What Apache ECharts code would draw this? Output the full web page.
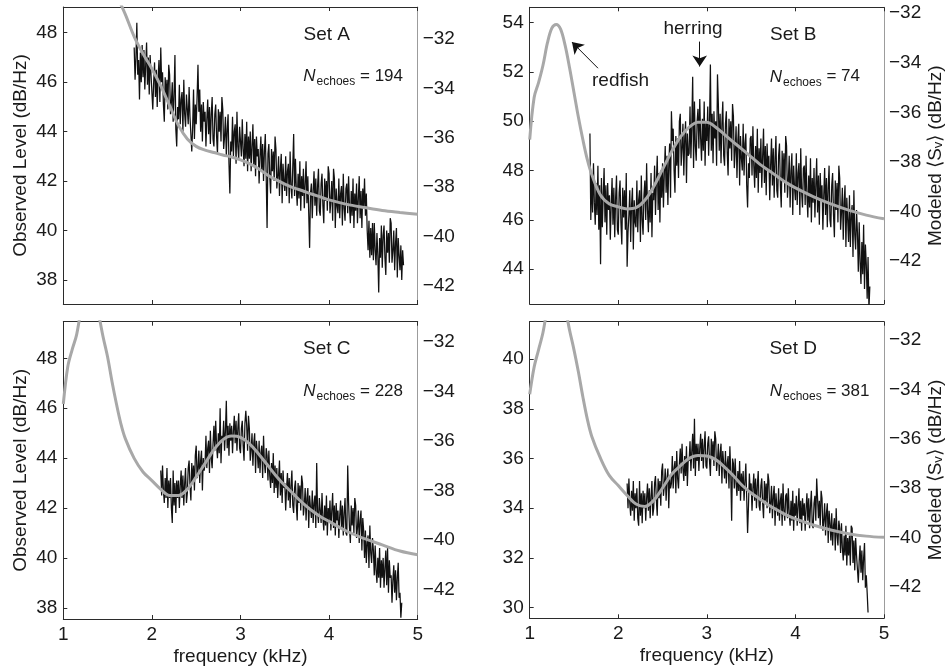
<!DOCTYPE html>
<html>
<head>
<meta charset="utf-8">
<script src="https://cdn.jsdelivr.net/npm/echarts@6/dist/echarts.min.js"></script>
<style>
html,body{margin:0;padding:0;background:#fff;}
#chart{width:946px;height:670px;}
</style>
</head>
<body>
<div id="chart"></div>
<script>
// ---------------- DATA ----------------
const FREQ_STEP = 0.01;          // kHz spacing of the observed spectra
const xTicks = [1, 2, 3, 4, 5];
const leftTicksA = [38, 40, 42, 44, 46, 48];
const leftTicksB = [44, 46, 48, 50, 52, 54];
const leftTicksC = [38, 40, 42, 44, 46, 48];
const leftTicksD = [30, 32, 34, 36, 38, 40];
const rightTicks = [-42, -40, -38, -36, -34, -32];

const setLabels = ['Set A', 'Set B', 'Set C', 'Set D'];
const echoCounts = ['194', '74', '228', '381'];

// Observed level (dB/Hz), left axis
const obsStartA = 1.80;
const obsA = [
 47.4,46.1,47.0,48.4,46.3,46.9,45.3,47.2,46.0,47.5,
 46.2,47.3,45.7,46.7,47.6,45.9,47.0,45.5,47.1,46.3,
 46.3,44.9,46.0,46.8,45.4,46.5,45.0,46.2,46.9,45.2,
 47.4,46.0,46.4,45.1,44.4,46.2,45.3,46.1,44.9,46.7,
 46.3,44.7,45.2,46.0,44.4,45.5,47.1,44.1,43.4,45.0,
 44.5,45.9,44.3,45.3,45.6,44.0,46.1,44.7,44.2,45.5,
 45.5,44.3,45.8,44.6,43.9,43.2,44.2,45.7,43.7,45.1,
 44.3,45.4,46.7,44.8,45.7,44.0,45.1,43.6,45.2,44.4,
 44.8,43.4,44.5,45.3,43.9,45.0,43.5,44.7,45.4,43.7,
 43.4,44.7,45.1,43.8,43.1,44.9,44.0,44.8,43.6,45.4,
 44.9,43.3,43.8,44.6,43.0,44.1,44.7,42.7,41.5,43.6,
 43.2,44.6,43.0,44.0,44.3,42.7,44.8,43.4,42.9,44.2,
 44.2,43.0,44.5,43.3,42.6,43.9,42.9,44.4,42.4,43.8,
 42.9,44.0,42.4,43.4,44.3,42.6,43.7,42.2,43.8,43.0,
 43.3,41.9,43.0,43.8,42.4,43.5,42.0,43.2,43.9,42.2,
 40.1,43.1,43.5,42.2,41.5,43.3,42.4,43.2,42.0,43.8,
 43.3,41.7,42.2,43.0,41.4,42.5,43.1,41.1,42.7,42.0,
 41.6,43.0,41.4,42.4,42.7,41.1,43.2,41.8,41.3,42.6,
 43.9,41.4,42.9,41.7,41.0,42.3,41.3,42.8,40.8,42.2,
 41.4,42.5,40.9,41.9,42.8,41.1,42.2,40.7,39.3,41.5,
 41.9,40.5,41.6,42.4,41.0,42.1,40.6,41.8,42.5,40.8,
 40.6,41.9,42.3,41.0,40.3,42.1,41.2,42.0,40.8,42.6,
 42.3,40.7,41.2,42.0,40.4,42.5,42.1,40.1,41.7,41.0,
 40.7,42.1,40.5,41.5,41.8,40.2,42.3,40.9,40.4,41.7,
 41.9,40.7,42.2,41.0,40.3,41.6,40.6,42.1,40.1,41.5,
 40.8,41.9,40.3,41.3,42.2,40.5,41.6,40.1,41.7,40.9,
 42.1,40.6,41.5,40.0,39.2,40.4,38.9,40.1,39.0,40.3,
 38.8,40.3,39.2,38.6,39.9,39.0,37.5,39.7,38.9,40.2,
 38.5,39.8,40.2,38.9,38.2,40.0,39.1,39.9,38.7,40.5,
 40.3,38.7,39.2,40.0,38.4,39.5,40.1,38.1,39.7,39.0,
 38.4,39.4,38.0,39.2,38.6
];
const obsStartB = 1.68;
const obsB = [
 49.5,46.0,
 47.9,46.3,48.3,46.7,45.8,47.5,46.2,48.2,45.6,47.4,
 44.2,47.7,45.7,47.0,48.1,45.9,47.4,45.4,47.5,46.4,
 47.0,45.2,46.6,47.7,45.8,47.3,45.3,46.9,47.8,45.6,
 45.4,47.1,47.6,45.9,45.0,47.3,46.1,47.2,45.6,47.9,
 44.1,45.5,46.2,47.2,45.1,46.6,47.3,44.8,46.8,45.9,
 45.7,47.6,45.5,46.8,47.2,45.1,47.8,46.0,45.4,47.0,
 47.6,46.0,48.3,46.4,45.5,47.2,45.9,47.9,45.3,47.1,
 46.8,48.2,46.2,47.5,48.6,46.4,47.9,45.9,48.0,46.9,
 48.3,46.5,47.9,49.0,47.1,48.6,46.6,48.2,49.1,46.9,
 50.4,49.2,49.7,48.0,47.1,49.4,48.2,49.3,47.7,50.0,
 50.3,48.2,48.9,49.9,47.8,49.3,50.0,47.5,49.5,48.6,
 48.7,50.6,48.5,49.8,51.8,48.1,50.8,49.0,48.4,50.0,
 50.5,48.9,50.9,49.3,48.4,50.1,48.8,50.8,48.2,50.0,
 49.2,50.6,48.6,49.9,52.3,48.8,50.3,48.3,50.4,49.3,
 50.0,48.2,51.9,50.7,48.8,50.3,48.3,49.9,50.8,48.6,
 48.2,49.9,50.4,48.7,47.8,50.1,48.9,50.0,48.4,50.7,
 50.2,48.1,48.8,49.8,47.7,49.2,49.9,47.4,49.4,48.5,
 48.0,49.9,47.8,49.1,49.5,47.4,46.5,48.3,47.7,49.3,
 49.4,47.8,49.8,48.2,47.3,49.0,47.7,49.7,47.1,48.9,
 47.9,49.3,47.3,48.6,49.7,47.5,49.0,47.0,49.1,48.0,
 48.6,46.8,48.2,49.3,47.4,48.9,46.9,48.5,49.4,47.2,
 46.9,48.6,49.1,47.4,46.5,48.8,47.6,48.7,47.1,49.4,
 49.0,46.9,47.6,48.6,46.5,48.0,48.7,46.2,48.2,47.3,
 46.8,48.7,46.6,47.9,48.3,46.2,48.9,47.1,46.5,48.1,
 48.2,46.6,48.6,47.0,46.1,47.8,46.5,48.5,45.9,47.7,
 46.7,48.1,46.1,47.4,48.5,46.3,47.8,45.8,47.9,46.8,
 47.4,45.6,47.0,48.1,46.2,47.7,45.7,47.3,48.2,46.0,
 45.7,47.4,47.9,46.2,45.3,47.6,46.4,47.5,45.9,48.2,
 47.7,45.6,46.3,47.3,45.2,46.7,47.4,44.9,46.9,46.0,
 45.1,47.0,44.9,46.2,46.6,44.5,47.2,45.4,44.8,46.4,
 45.5,43.9,45.9,44.3,43.4,45.1,43.8,45.8,43.2,45.0,
 44.2,42.8,44.5,42.4,43.3
];
const obsStartC = 2.10;
const obsC = [
 43.5,42.5,43.7,42.7,42.2,43.2,42.4,43.6,42.0,43.1,
 42.4,43.2,42.0,41.4,43.5,42.1,43.0,41.8,43.1,42.4,
 43.1,42.0,42.9,43.5,42.4,43.3,42.1,43.0,43.6,42.2,
 42.6,43.6,43.9,42.9,42.3,43.8,43.0,43.7,42.7,44.1,
 44.5,43.2,43.6,44.3,43.0,43.9,44.3,42.7,44.0,43.5,
 43.8,44.9,43.6,44.4,44.7,43.4,45.1,44.0,43.6,44.6,
 45.3,44.3,45.5,44.5,44.0,45.0,44.2,46.0,43.8,44.9,
 44.7,45.5,44.3,45.1,46.3,44.4,45.3,44.1,45.4,44.7,
 45.3,44.2,45.1,45.7,44.6,45.5,44.3,45.2,45.8,44.4,
 44.2,45.2,45.5,44.5,43.9,45.4,45.9,45.3,44.3,45.7,
 45.2,43.9,44.3,45.0,43.7,44.6,45.0,43.4,44.7,44.2,
 43.6,44.7,43.4,44.2,44.5,43.2,44.9,43.8,43.4,44.4,
 44.1,43.1,44.3,43.3,42.8,43.8,43.0,44.2,42.6,43.7,
 42.8,43.6,42.4,43.2,43.9,42.5,43.4,42.2,43.5,42.8,
 43.0,41.9,42.8,43.4,42.3,43.2,42.0,42.9,43.5,42.1,
 41.8,42.8,43.1,42.1,41.5,43.0,42.2,42.9,41.9,43.3,
 43.0,41.7,42.1,42.8,41.5,42.4,42.8,41.2,42.5,42.0,
 41.6,42.7,41.4,42.2,42.5,41.2,43.8,41.8,41.4,42.4,
 42.4,41.4,42.6,41.6,41.1,42.1,41.3,42.5,40.9,42.0,
 41.5,42.3,41.1,41.9,42.6,41.2,42.1,40.9,42.2,41.5,
 41.9,40.8,41.7,42.3,41.2,42.1,40.9,41.8,42.4,41.0,
 40.9,43.7,42.2,41.2,40.6,42.1,41.3,42.0,41.0,42.4,
 42.1,40.8,41.2,41.9,40.6,41.5,41.9,40.3,41.6,41.1,
 40.0,41.1,39.8,40.6,40.9,39.6,41.3,40.2,39.8,40.8,
 40.3,39.3,40.5,39.5,39.0,40.0,39.2,40.4,38.8,39.9,
 39.2,40.0,38.8,39.6,40.3,38.9,40.4,38.6,39.9,39.2,
 39.3,38.2,39.1,39.7,38.6,39.5,38.3,39.2,39.8,38.4,
 38.6,37.6,38.2
];
const obsStartD = 2.10;
const obsD = [
 35.0,34.0,35.2,34.2,33.7,34.7,33.9,35.1,33.5,34.6,
 34.0,34.8,33.6,33.3,35.1,33.7,34.6,33.4,34.7,34.0,
 34.6,33.5,34.4,35.0,33.9,34.8,33.6,34.5,35.1,33.7,
 34.0,35.0,35.3,34.3,33.7,35.2,34.4,35.1,34.1,35.5,
 35.8,34.5,34.9,35.6,34.3,35.2,35.6,34.0,35.3,34.8,
 35.0,36.1,34.8,35.6,35.9,34.6,36.3,35.2,34.8,35.8,
 36.4,35.4,36.6,35.6,35.1,36.1,35.3,36.5,34.9,36.0,
 35.9,36.7,35.5,36.3,37.0,35.6,37.6,35.3,36.6,35.9,
 36.6,35.5,36.4,37.0,35.9,36.8,35.6,36.5,37.1,35.7,
 35.6,36.6,36.9,35.9,35.3,36.8,36.0,36.7,35.7,37.1,
 36.8,35.5,35.9,36.6,35.3,36.2,36.6,35.0,36.3,35.8,
 35.2,36.3,35.0,35.8,36.1,34.8,36.5,35.4,33.5,36.0,
 35.8,34.8,36.0,35.0,34.5,35.5,34.7,35.9,34.3,35.4,
 34.7,35.5,34.3,35.1,35.8,34.4,33.0,34.1,35.4,34.7,
 35.0,33.9,34.8,35.4,34.3,35.2,34.0,34.9,35.5,34.1,
 33.9,34.9,35.2,34.2,33.6,35.1,34.3,35.0,34.0,35.4,
 35.1,33.8,34.2,34.9,33.6,34.5,34.9,33.3,34.6,34.1,
 33.7,34.8,33.5,34.3,34.6,33.3,35.0,33.9,33.5,34.5,
 34.6,33.6,34.8,33.8,33.3,34.3,33.5,34.7,33.1,34.2,
 33.7,34.5,33.3,34.1,34.8,33.4,34.3,33.1,34.4,33.7,
 34.2,33.1,34.0,34.6,33.5,34.4,33.2,34.1,34.7,33.3,
 33.2,34.2,34.5,33.5,35.2,34.4,33.6,34.3,33.3,34.7,
 34.4,33.1,33.5,34.2,32.9,33.8,34.2,32.6,33.9,33.4,
 32.7,33.8,32.5,33.3,33.6,32.3,34.0,32.9,32.5,33.5,
 33.2,32.2,33.4,32.4,31.9,32.9,32.1,33.3,31.7,32.8,
 32.1,32.9,31.7,33.3,33.2,31.8,32.7,31.5,32.8,32.1,
 32.1,31.0,31.9,32.5,31.4,32.3,31.1,32.0,32.6,30.8,
 31.3,30.6,29.8
];

// Modeled <Sv> (dB/Hz), right axis
const modelFreqA = [1.4,1.5,1.6,1.7,1.8,1.9,2.0,2.1,2.2,2.3,2.4,2.5,2.6,2.7,2.8,2.9,3.0,3.1,3.2,3.3,3.4,3.5,3.6,3.7,3.8,3.9,4.0,4.2,4.4,4.6,4.8,5.0];
const modelA = [-28.4,-29.4,-30.2,-31.0,-31.9,-32.6,-33.2,-33.9,-34.7,-35.5,-36.05,-36.35,-36.5,-36.6,-36.7,-36.78,-36.9,-37.05,-37.25,-37.5,-37.7,-37.88,-38.03,-38.15,-38.28,-38.4,-38.52,-38.7,-38.83,-38.95,-39.03,-39.1];
const modelFreq = [1.0,1.05,1.1,1.15,1.2,1.25,1.3,1.35,1.4,1.45,1.5,1.55,1.6,1.65,1.7,1.8,1.9,2.0,2.1,2.2,2.3,2.4,2.5,2.6,2.7,2.8,2.9,3.0,3.1,3.2,3.3,3.4,3.5,3.6,3.7,3.8,3.9,4.0,4.2,4.4,4.6,4.8,5.0];
const modelB = [-37.1,-35.4,-34.8,-34.1,-33.2,-32.6,-32.45,-32.65,-33.3,-34.2,-35.2,-36.2,-37.1,-37.9,-38.5,-39.35,-39.7,-39.82,-39.9,-39.85,-39.55,-39.0,-38.3,-37.6,-37.0,-36.6,-36.4,-36.4,-36.6,-36.9,-37.2,-37.5,-37.8,-38.1,-38.35,-38.6,-38.85,-39.05,-39.4,-39.7,-39.95,-40.15,-40.3];
const modelC = [-34.5,-33.0,-32.3,-31.7,-30.7,-30.0,-29.9,-30.2,-30.9,-31.8,-32.6,-33.6,-34.5,-35.3,-35.9,-36.7,-37.25,-37.6,-37.95,-38.2,-38.2,-37.95,-37.45,-36.9,-36.35,-35.95,-35.8,-35.85,-36.1,-36.5,-36.95,-37.4,-37.8,-38.15,-38.5,-38.8,-39.05,-39.25,-39.65,-39.95,-40.2,-40.45,-40.6];
const modelD = [-34.2,-33.1,-32.4,-31.7,-30.7,-30.1,-29.9,-30.1,-30.7,-31.6,-32.4,-33.3,-34.3,-35.2,-35.9,-36.8,-37.5,-37.9,-38.3,-38.65,-38.75,-38.5,-38.0,-37.45,-37.1,-36.8,-36.68,-36.7,-36.85,-37.15,-37.5,-37.9,-38.2,-38.45,-38.7,-38.9,-39.1,-39.25,-39.5,-39.7,-39.85,-39.95,-40.0];

// Annotation arrows in Set B (frequency kHz, observed level dB/Hz): [tail, head]
const redfishArrow = [[1.771, 52.15], [1.477, 53.21]];
const herringArrow = [[2.919, 53.23], [2.919, 52.22]];

// ---------------- LAYOUT / STYLE ----------------
const FONT = '"Liberation Sans", Arial, Helvetica, sans-serif';
const AXC = '#2b2b2b', RAXC = '#9c9c9c', TXT = '#1a1a1a';
const OBS_COLOR = '#111111', MODEL_COLOR = '#a8a8a8';

const layout = [
  {left: 63.3,  top: 7,     width: 354.4, height: 297,   lmin: 37.03, lmax: 49.04, rmin: -42.74, rmax: -30.70},
  {left: 529.7, top: 7.3,   width: 354.3, height: 296.7, lmin: 42.59, lmax: 54.62, rmin: -43.74, rmax: -31.76},
  {left: 63.3,  top: 321.7, width: 354.4, height: 297.3, lmin: 37.55, lmax: 49.47, rmin: -43.20, rmax: -31.17},
  {left: 529.7, top: 321.7, width: 354.3, height: 296.6, lmin: 29.57, lmax: 41.51, rmin: -43.28, rmax: -31.26}
];

const panels = [
  {obsStart: obsStartA, obs: obsA, mf: modelFreqA, mv: modelA, lticks: leftTicksA},
  {obsStart: obsStartB, obs: obsB, mf: modelFreq,  mv: modelB, lticks: leftTicksB},
  {obsStart: obsStartC, obs: obsC, mf: modelFreq,  mv: modelC, lticks: leftTicksC},
  {obsStart: obsStartD, obs: obsD, mf: modelFreq,  mv: modelD, lticks: leftTicksD}
];

const xName = 'frequency (kHz)';
const leftName = 'Observed Level (dB/Hz)';
const rightName = 'Modeled \u27E8S\u1D65\u27E9 (dB/Hz)';
const nameStyle = {fontSize: 19, color: TXT, fontFamily: FONT};
const labelStyle = {fontSize: 19, color: TXT, fontFamily: FONT};
const minus = v => (v < 0 ? '\u2212' : '') + Math.abs(v);

const grids = [], xAxes = [], yAxes = [], series = [], graphics = [];

panels.forEach((p, i) => {
  const L = layout[i];
  const bottomRow = i >= 2;
  const leftCol = i % 2 === 0;
  grids.push({left: L.left, top: L.top, width: L.width, height: L.height, containLabel: false, show: false});

  xAxes.push({
    gridIndex: i, type: 'value', position: 'bottom', min: xTicks[0], max: xTicks[xTicks.length - 1], interval: 1,
    axisLine: {show: true, onZero: false, lineStyle: {color: AXC, width: 1}},
    axisTick: {show: true, inside: true, length: 4, lineStyle: {color: AXC}},
    axisLabel: Object.assign({show: bottomRow, margin: 6}, labelStyle),
    splitLine: {show: false},
    name: bottomRow ? xName : '', nameLocation: 'middle', nameGap: 28, nameTextStyle: nameStyle
  });
  xAxes.push({
    gridIndex: i, type: 'value', position: 'top', min: xTicks[0], max: xTicks[xTicks.length - 1], interval: 1,
    axisLine: {show: true, onZero: false, lineStyle: {color: AXC, width: 1}},
    axisTick: {show: true, inside: true, length: 4, lineStyle: {color: AXC}},
    axisLabel: {show: false}, splitLine: {show: false}
  });
  yAxes.push({
    gridIndex: i, type: 'value', position: 'left', min: L.lmin, max: L.lmax,
    axisLine: {show: true, onZero: false, lineStyle: {color: AXC, width: 1}},
    axisTick: {show: true, inside: true, length: 4, customValues: p.lticks, lineStyle: {color: AXC}},
    axisLabel: Object.assign({customValues: p.lticks, margin: 6}, labelStyle),
    splitLine: {show: false},
    name: leftCol ? leftName : '', nameLocation: 'middle', nameRotate: 90, nameGap: 33, nameTextStyle: nameStyle
  });
  yAxes.push({
    gridIndex: i, type: 'value', position: 'right', min: L.rmin, max: L.rmax,
    axisLine: {show: true, onZero: false, lineStyle: {color: RAXC, width: 1}},
    axisTick: {show: false, customValues: rightTicks},
    axisLabel: Object.assign({customValues: rightTicks, margin: 5, formatter: minus}, labelStyle),
    splitLine: {show: false},
    name: leftCol ? '' : rightName, nameLocation: 'middle', nameRotate: 90, nameGap: 42, nameTextStyle: nameStyle
  });

  const obsData = p.obs.map((v, k) => [+(p.obsStart + k * FREQ_STEP).toFixed(3), v]);
  const modelData = p.mf.map((f, k) => [f, p.mv[k]]);

  const obsSeries = {
    type: 'line', xAxisIndex: 2 * i, yAxisIndex: 2 * i, data: obsData,
    symbol: 'none', showSymbol: false, clip: true, silent: true, z: 2,
    lineStyle: {color: OBS_COLOR, width: 1.25}
  };
  if (i === 1) {
    obsSeries.markLine = {
      silent: true, symbol: ['none', 'arrow'], symbolSize: 11, animation: false,
      label: {show: false},
      lineStyle: {color: '#111', width: 1, type: 'solid'},
      emphasis: {disabled: true},
      data: [
        [{coord: redfishArrow[0]}, {coord: redfishArrow[1]}],
        [{coord: herringArrow[0]}, {coord: herringArrow[1]}]
      ]
    };
  }
  series.push(obsSeries);
  series.push({
    type: 'line', xAxisIndex: 2 * i, yAxisIndex: 2 * i + 1, data: modelData,
    smooth: 0.35, symbol: 'none', showSymbol: false, clip: true, silent: true, z: 3,
    lineStyle: {color: MODEL_COLOR, width: 3}
  });

  graphics.push({
    type: 'text', x: L.left + 263.5, y: L.top + 27.5, silent: true,
    style: {text: setLabels[i], fontSize: 19, fontFamily: FONT, fill: TXT, align: 'center', verticalAlign: 'middle'}
  });
  graphics.push({
    type: 'text', x: L.left + 240, y: L.top + 61, silent: true,
    style: {
      text: '{n|N}{e|echoes}{t| = ' + echoCounts[i] + '}',
      align: 'left', verticalAlign: 'top', fill: TXT, fontFamily: FONT,
      rich: {
        n: {fontSize: 17, fontStyle: 'italic', fontFamily: FONT, fill: TXT, lineHeight: 20, verticalAlign: 'top'},
        e: {fontSize: 12, fontFamily: FONT, fill: TXT, lineHeight: 14, padding: [12, 0, 0, 1], verticalAlign: 'bottom'},
        t: {fontSize: 17, fontFamily: FONT, fill: TXT, lineHeight: 20, verticalAlign: 'top'}
      }
    }
  });
});

// text labels for annotations in Set B
const LB = layout[1];
graphics.push({
  type: 'text', x: LB.left + 90.8, y: LB.top + 73.5, silent: true,
  style: {text: 'redfish', fontSize: 19, fontFamily: FONT, fill: TXT, align: 'center', verticalAlign: 'middle'}
});
graphics.push({
  type: 'text', x: LB.left + 163.3, y: LB.top + 21.5, silent: true,
  style: {text: 'herring', fontSize: 19, fontFamily: FONT, fill: TXT, align: 'center', verticalAlign: 'middle'}
});

const chart = echarts.init(document.getElementById('chart'), null, {renderer: 'canvas'});
chart.setOption({
  animation: false,
  backgroundColor: '#ffffff',
  textStyle: {fontFamily: FONT},
  grid: grids,
  xAxis: xAxes,
  yAxis: yAxes,
  series: series,
  graphic: graphics
});
</script>
</body>
</html>
